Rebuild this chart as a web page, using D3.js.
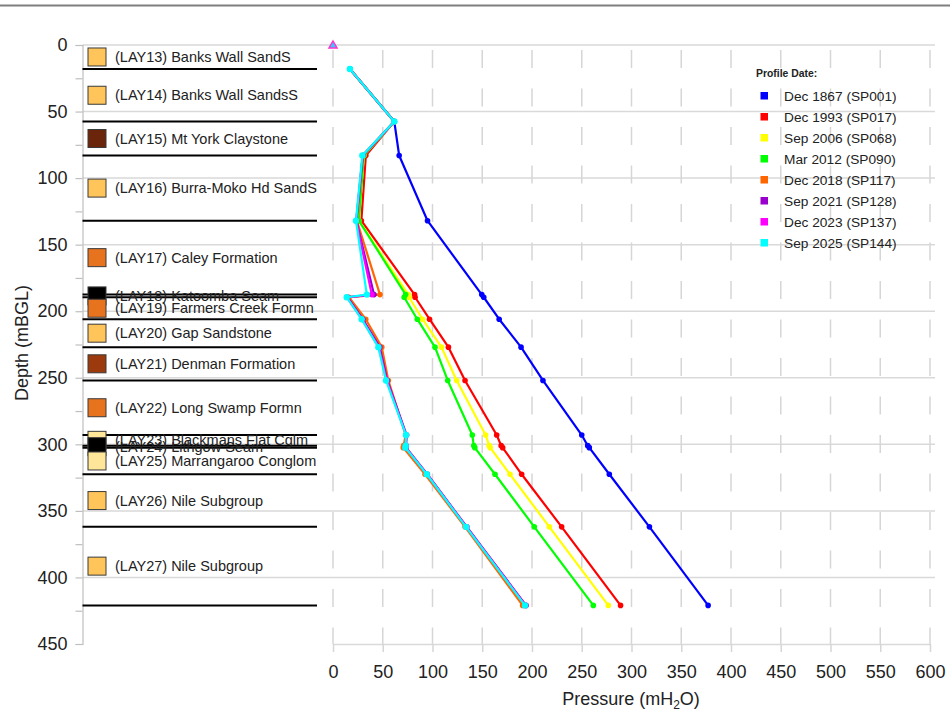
<!DOCTYPE html>
<html>
<head>
<meta charset="utf-8">
<script src="https://cdn.jsdelivr.net/npm/d3@7"></script>
<style>
	body { margin: 0; background: #fff; }
	text { font-family: "Liberation Sans", Arial, sans-serif; fill: #222; }
</style>
</head>
<body>
<div id="chart"></div>
<script>
/* jshint esversion: 6 */
const width = 950, height = 712;

// Geological layers: code, name, top and bottom depth (mBGL), fill colour
const layerCodes = ["LAY13", "LAY14", "LAY15", "LAY16", "LAY17", "LAY18", "LAY19", "LAY20",
			"LAY21", "LAY22", "LAY23", "LAY24", "LAY25", "LAY26", "LAY27"];
const layerNames = ["Banks Wall SandS", "Banks Wall SandsS", "Mt York Claystone", "Burra-Moko Hd SandS",
			"Caley Formation", "Katoomba Seam", "Farmers Creek Formn", "Gap Sandstone", "Denman Formation",
			"Long Swamp Formn", "Blackmans Flat Cglm", "Lithgow Seam", "Marrangaroo Conglom",
			"Nile Subgroup", "Nile Subgroup"];
const layerTops = [0, 18, 57.5, 83, 132, 187.5, 189.5, 206, 227, 252, 293, 301, 302.5, 322.5, 362];
const layerBottoms = [18, 57.5, 83, 132, 187.5, 189.5, 206, 227, 252, 293, 301, 302.5, 322.5, 362, 421];
const layerColors = ["#ffc55a", "#ffc55a", "#6b250b", "#ffc55a", "#e8731e", "#000000", "#e8731e", "#ffc55a",
			"#9c3a0e", "#e8731e", "#ffe699", "#000000", "#ffe699", "#ffc55a", "#ffc55a"];

// Pressure profiles, one value per node depth
const nodeDepths = [18, 57.5, 83, 132, 187.5, 189.5, 206, 227, 252, 293, 301, 302.5, 322.5, 362, 421];
const profileNames = ["Dec 1867 (SP001)", "Dec 1993 (SP017)", "Sep 2006 (SP068)", "Mar 2012 (SP090)",
			"Dec 2018 (SP117)", "Sep 2021 (SP128)", "Dec 2023 (SP137)", "Sep 2025 (SP144)"];
const profileColors = ["#0000ff", "#ff0000", "#ffff00", "#00ff00", "#ff6600", "#9900cc", "#ff00ff", "#00ffff"];
const sp001 = [17, 61.6, 66.5, 95, 149.5, 151.5, 167, 189, 211, 250, 256, 257.6, 277.7, 318, 377];
const sp017 = [17, 61.6, 33, 28.5, 82, 82.5, 97, 116, 132.7, 164.5, 169, 170.5, 189.6, 229.8, 289];
const sp068 = [17, 61.6, 31, 26, 75.7, 76.5, 90, 109, 124.3, 153.4, 157, 158, 177.9, 217.4, 276.7];
const sp090 = [17, 61.6, 31, 26, 73, 71.5, 84.7, 102.5, 115.3, 140, 141.5, 142.5, 162.8, 202.3, 261.6];
const sp117 = [17, 61.6, 30, 24, 47.2, 16, 32.9, 49, 55.6, 73, 71, 70.6, 92.5, 132.7, 190.6];
const sp128 = [17, 61.6, 30, 23.5, 41.2, 14.5, 30, 47, 54.5, 74, 73.5, 73.5, 94.8, 134.5, 194];
const sp137 = [17, 61.6, 29.8, 23.3, 39, 14, 29, 46, 54, 73.6, 73, 73, 94.4, 134, 193.5];
const sp144 = [17, 61.6, 29.5, 23.1, 34, 13.8, 28.8, 45.6, 53.3, 73.4, 73, 72.7, 94.2, 133.7, 193];
const profiles = [sp001, sp017, sp068, sp090, sp117, sp128, sp137, sp144];

// Water level marker (pressure, depth)
const waterLevel = [0, 0];

const depthTicks = d3.range(0, 451, 50);
const pressureTicks = d3.range(0, 601, 50);

const x = d3.scaleLinear().domain([0, 600]).range([333, 930]);
const y = d3.scaleLinear().domain([0, 450]).range([45, 644]);
const layerLeft = 82.5, layerRight = 317;

const svg = d3.select("#chart").append("svg")
		.attr("width", width)
		.attr("height", height);

// Top border line
svg.append("line")
		.attr("x1", 0).attr("x2", width)
		.attr("y1", 5.5).attr("y2", 5.5)
		.attr("stroke", "#7f7f7f")
		.attr("stroke-width", 2);

// Horizontal gridlines (not on the bottom value)
svg.append("g").selectAll("line")
	.data(depthTicks.filter(d => d < 450))
	.enter()
	.append("line")
		.attr("x1", layerLeft).attr("x2", x(600) + 5)
		.attr("y1", d => y(d)).attr("y2", d => y(d))
		.attr("stroke", "#d9d9d9")
		.attr("stroke-width", 1.5);

// Vertical dashed gridlines
svg.append("g").selectAll("line")
	.data(pressureTicks)
	.enter()
	.append("line")
		.attr("x1", d => x(d)).attr("x2", d => x(d))
		.attr("y1", 50).attr("y2", y(450))
		.attr("stroke", "#d6d6d6")
		.attr("stroke-width", 1.5)
		.attr("stroke-dasharray", "18,20.5");

// Depth axis
const yAxis = svg.append("g")
		.attr("transform", `translate(${layerLeft},0)`)
		.call(d3.axisLeft(y).tickValues(d3.range(0, 451, 25)).tickSize(7).tickFormat(d => d % 50 === 0 ? d : ""));
yAxis.select(".domain").attr("stroke", "#bfbfbf").attr("stroke-width", 1.2);
yAxis.selectAll(".tick line").attr("stroke", "#bfbfbf").attr("stroke-width", 1.2);
yAxis.selectAll(".tick text")
		.attr("x", -15)
		.style("font-size", "18px")
		.attr("fill", "#222");

// Pressure axis
const xAxis = svg.append("g")
		.attr("transform", `translate(0,${y(450)})`)
		.call(d3.axisBottom(x).tickValues(pressureTicks).tickSize(8).tickSizeOuter(0));
xAxis.select(".domain").attr("stroke", "#d9d9d9").attr("stroke-width", 1.5);
xAxis.selectAll(".tick line").attr("stroke", "#d6d6d6").attr("stroke-width", 1.5);
xAxis.selectAll(".tick text")
		.attr("y", 21)
		.style("font-size", "18px")
		.attr("fill", "#222");

// Axis titles
svg.append("text")
		.attr("transform", "translate(28,343) rotate(-90)")
		.style("text-anchor", "middle")
		.style("font-size", "18px")
		.text("Depth (mBGL)");

const xTitle = svg.append("text")
		.attr("x", 631)
		.attr("y", 705)
		.style("text-anchor", "middle")
		.style("font-size", "18px");
xTitle.append("tspan").text("Pressure (mH");
xTitle.append("tspan").attr("dy", 4).style("font-size", "12px").text("2");
xTitle.append("tspan").attr("dy", -4).text("O)");

// Layer boundaries
svg.append("g").selectAll("line")
	.data(layerBottoms)
	.enter()
	.append("line")
		.attr("x1", layerLeft).attr("x2", layerRight)
		.attr("y1", d => y(d)).attr("y2", d => y(d))
		.attr("stroke", "#000")
		.attr("stroke-width", 2);

// Layer symbols and labels, at the middle of each layer
const layers = layerCodes.map((code, i) => ({
	label: `(${code}) ${layerNames[i]}`,
	mid: (layerTops[i] + layerBottoms[i]) / 2,
	color: layerColors[i]
}));

svg.append("g").selectAll("rect")
	.data(layers)
	.enter()
	.append("rect")
		.attr("x", 88)
		.attr("y", d => y(d.mid) - 9)
		.attr("width", 18)
		.attr("height", 18)
		.attr("fill", d => d.color)
		.attr("stroke", "#3a3a3a")
		.attr("stroke-width", 1);

svg.append("g").selectAll("text")
	.data(layers)
	.enter()
	.append("text")
		.attr("x", 115)
		.attr("y", d => y(d.mid))
		.attr("dy", "0.35em")
		.style("font-size", "14.5px")
		.text(d => d.label);

// Pressure profiles
const line = d3.line()
		.x(d => x(d[0]))
		.y(d => y(d[1]));

profiles.forEach((values, i) => {
	const pts = values.map((v, j) => [v, nodeDepths[j]]);
	const g = svg.append("g");
	g.append("path")
			.datum(pts)
			.attr("fill", "none")
			.attr("stroke", profileColors[i])
			.attr("stroke-width", 2.2)
			.attr("stroke-linejoin", "round")
			.attr("d", line);
	g.selectAll("circle")
		.data(pts)
		.enter()
		.append("circle")
			.attr("cx", d => x(d[0]))
			.attr("cy", d => y(d[1]))
			.attr("r", i === 7 ? 3.2 : 2.8)
			.attr("fill", profileColors[i]);
});

// Water level triangle
const wx = x(waterLevel[0]), wy = y(waterLevel[1]);
svg.append("path")
		.attr("d", `M${wx},${wy - 4}L${wx + 4},${wy + 3}L${wx - 4},${wy + 3}Z`)
		.attr("fill", "#33ccff")
		.attr("stroke", "#ff33cc")
		.attr("stroke-width", 1.5);

// Legend
svg.append("text")
		.attr("x", 756)
		.attr("y", 73)
		.attr("dy", "0.35em")
		.style("font-size", "10.4px")
		.style("font-weight", "bold")
		.text("Profile Date:");

const legend = svg.append("g").selectAll("g")
	.data(profileNames)
	.enter()
	.append("g")
		.attr("transform", (d, i) => `translate(0,${96 + i * 21})`);

legend.append("rect")
		.attr("x", 760.5)
		.attr("y", -4)
		.attr("width", 7.5)
		.attr("height", 7.5)
		.attr("fill", (d, i) => profileColors[i]);

legend.append("text")
		.attr("x", 784)
		.attr("dy", "0.35em")
		.style("font-size", "13.7px")
		.text(d => d);
</script>
</body>
</html>
